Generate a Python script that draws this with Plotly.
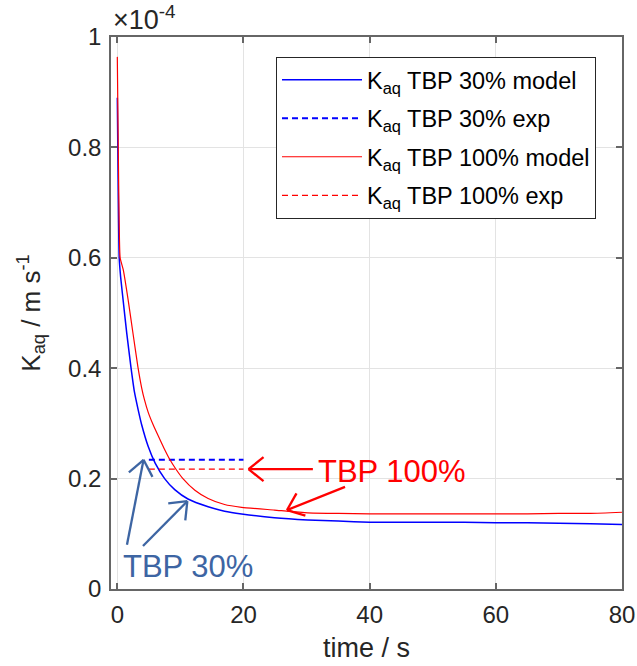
import math
import plotly.graph_objects as go

# time (s) and K_aq (units of 1e-4 m/s)
t_30 = [0, 0.15, 0.3, 0.53, 1.0, 1.5, 2.16, 2.7, 3.3, 3.85, 4.9, 6.0, 7.5, 9.1, 11.2,
        14.4, 17.0, 19.7, 24.9, 30.2, 35, 40, 45, 50, 55, 60, 65, 70, 75, 80]
k30_model = [0.89, 0.72, 0.60, 0.565, 0.515, 0.463, 0.402, 0.358, 0.325, 0.298, 0.258, 0.228,
             0.200, 0.180, 0.163, 0.149, 0.141, 0.136, 0.129, 0.125, 0.123, 0.121, 0.121,
             0.121, 0.121, 0.120, 0.120, 0.119, 0.118, 0.117]
t_100 = [0, 0.15, 0.3, 0.45, 0.95, 1.7, 2.5, 3.27, 3.85, 4.3, 4.9, 5.7, 6.5, 7.4, 8.3, 9.3,
         10.4, 12.3, 14.4, 17.0, 19.7, 24.9, 30.2, 35, 40, 45, 50, 55, 60, 65, 70, 75, 80]
k100_model = [0.964, 0.80, 0.66, 0.60, 0.578, 0.525, 0.462, 0.402, 0.365, 0.343, 0.320, 0.297,
              0.277, 0.255, 0.235, 0.217, 0.200, 0.179, 0.164, 0.153, 0.148, 0.143, 0.138,
              0.137, 0.136, 0.136, 0.136, 0.136, 0.136, 0.136, 0.137, 0.137, 0.139]
t_exp = [5, 20]
k30_exp = [0.234, 0.234]
k100_exp = [0.217, 0.217]

FONT = "Liberation Sans, Arial, sans-serif"
BLUE = "#0000ff"
RED = "#ff0000"
ANN_BLUE = "#3d65a3"
AXC = "#262626"
LINEC = "#666666"

X_RANGE = [-1, 80]
Y_RANGE = [0, 1]
W, H = 637, 666
ML, MR, MT, MB = 111, 15, 37, 77

fig = go.Figure()
fig.add_trace(go.Scatter(x=t_30, y=k30_model, mode="lines",
                         line=dict(color=BLUE, width=1.5, shape="spline", smoothing=0.5),
                         name="K<sub>aq</sub> TBP 30% model", legendgroup="a"))
fig.add_trace(go.Scatter(x=t_exp, y=k30_exp, mode="lines",
                         line=dict(color=BLUE, width=2, dash="6px,4px"),
                         name="K<sub>aq</sub> TBP 30% exp", legendgroup="b"))
fig.add_trace(go.Scatter(x=t_100, y=k100_model, mode="lines",
                         line=dict(color=RED, width=1.2, shape="spline", smoothing=0.5),
                         name="K<sub>aq</sub> TBP 100% model", legendgroup="c"))
fig.add_trace(go.Scatter(x=t_exp, y=k100_exp, mode="lines",
                         line=dict(color=RED, width=1.2, dash="6px,4px"),
                         name="K<sub>aq</sub> TBP 100% exp", legendgroup="d"))

axis_common = dict(
    showgrid=True, gridcolor="#e3e3e3", gridwidth=1, zeroline=False,
    showline=True, linecolor=LINEC, linewidth=1.5, mirror="allticks",
    ticks="inside", ticklen=6, tickcolor=LINEC, tickwidth=1.5,
    tickfont=dict(family=FONT, size=24, color=AXC), automargin=False,
)

fig.update_xaxes(range=X_RANGE, tickvals=[0, 20, 40, 60, 80], ticklabelstandoff=3,
                 title=dict(text="time / s", font=dict(family=FONT, size=27, color=AXC), standoff=12),
                 **axis_common)
fig.update_yaxes(range=Y_RANGE, tickvals=[0, 0.2, 0.4, 0.6, 0.8, 1],
                 ticktext=["0", "0.2", "0.4", "0.6", "0.8", "1"], ticklabelstandoff=3,
                 title=dict(text="K<sub>aq</sub> / m s<sup>-1</sup>",
                            font=dict(family=FONT, size=26, color=AXC), standoff=20),
                 **axis_common)

# pixel scales used to shape open (MATLAB-style) arrowheads
sx = (W - ML - MR) / (X_RANGE[1] - X_RANGE[0])
sy = (H - MT - MB) / (Y_RANGE[1] - Y_RANGE[0])


def arrow_shapes(tail, tip, color, width=2.3, L=15, Wd=12):
    tx, ty = tail
    hx, hy = tip
    dx, dy = (hx - tx) * sx, -(hy - ty) * sy
    n = math.hypot(dx, dy)
    ux, uy = dx / n, dy / n
    px, py = -uy, ux
    shapes = [dict(type="line", xref="x", yref="y", x0=tx, y0=ty, x1=hx, y1=hy,
                   line=dict(color=color, width=width))]
    for s in (1, -1):
        bx = -L * ux + s * Wd * px
        by = -L * uy + s * Wd * py
        shapes.append(dict(type="line", xref="x", yref="y", x0=hx, y0=hy,
                           x1=hx + bx / sx, y1=hy - by / sy,
                           line=dict(color=color, width=width)))
    return shapes


shapes = []
shapes += arrow_shapes((31.0, 0.217), (20.8, 0.217), RED)
shapes += arrow_shapes((36.1, 0.185), (26.9, 0.143), RED)
shapes += arrow_shapes((1.53, 0.08), (4.16, 0.234), ANN_BLUE)
shapes += arrow_shapes((4.07, 0.078), (11.1, 0.159), ANN_BLUE)

ann = [
    dict(text="×10<sup>-4</sup>", xref="paper", yref="paper", x=0.0, y=1.0,
         xanchor="left", yanchor="bottom", showarrow=False, yshift=0,
         font=dict(family=FONT, size=27, color=AXC)),
    dict(text="TBP 100%", x=43.6, y=0.212, xref="x", yref="y", showarrow=False,
         font=dict(family=FONT, size=31, color=RED)),
    dict(text="TBP 30%", x=11.2, y=0.04, xref="x", yref="y", showarrow=False,
         font=dict(family=FONT, size=31, color=ANN_BLUE)),
]

fig.update_layout(
    width=W, height=H,
    margin=dict(l=ML, r=MR, t=MT, b=MB),
    paper_bgcolor="white", plot_bgcolor="white",
    font=dict(family=FONT, color=AXC),
    annotations=ann, shapes=shapes,
    legend=dict(x=(276 - ML) / (W - ML - MR), y=0.964, xanchor="left", yanchor="top",
                bgcolor="white", bordercolor=AXC, borderwidth=1,
                font=dict(family=FONT, size=23.5, color="#000000"),
                itemwidth=80, tracegroupgap=5),
    showlegend=True,
)

fig.write_html("out.html")
